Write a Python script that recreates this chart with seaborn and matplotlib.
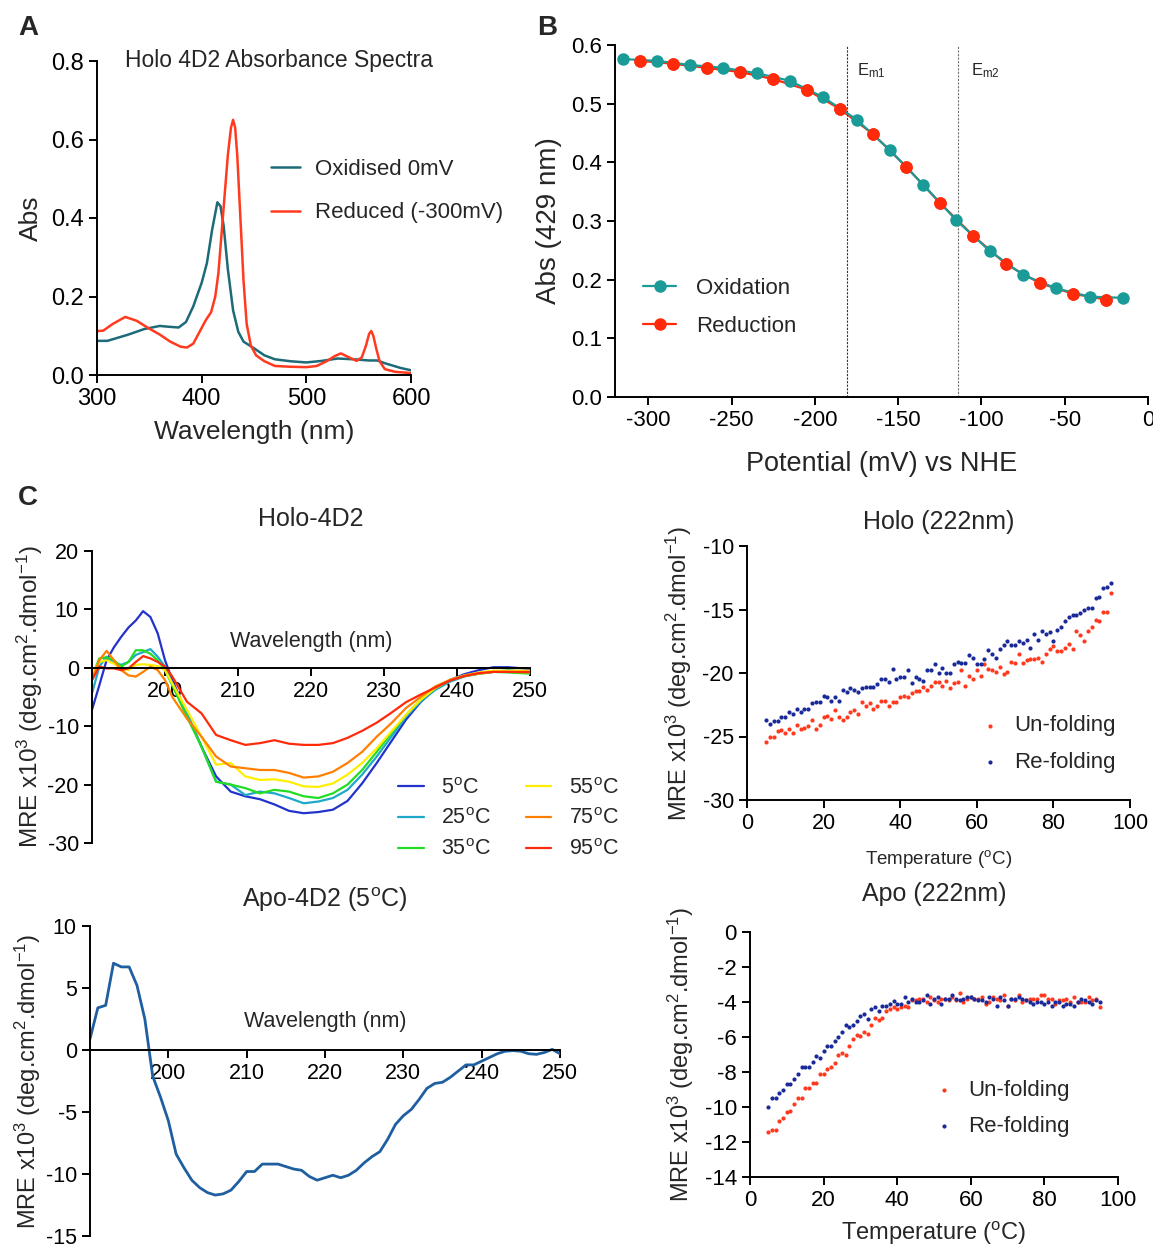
import numpy as np
import pandas as pd
import matplotlib
matplotlib.use('Agg')
import matplotlib.pyplot as plt
import seaborn as sns

# ---------------- DATA ----------------
# Panel A: absorbance spectra
ox_wl = [300, 310, 330, 345, 360, 368, 378, 385, 392, 400, 405, 410, 415, 418, 421, 425, 430, 435, 440, 450, 460, 470, 485, 500, 515, 530, 545, 560, 568, 575, 590, 600]
ox_abs = [0.087, 0.087, 0.103, 0.117, 0.125, 0.123, 0.121, 0.135, 0.175, 0.235, 0.285, 0.37, 0.44, 0.43, 0.38, 0.27, 0.165, 0.11, 0.085, 0.068, 0.05, 0.04, 0.035, 0.032, 0.036, 0.042, 0.04, 0.037, 0.037, 0.03, 0.018, 0.012]
red_wl = [300, 306, 315, 327, 338, 350, 360, 370, 380, 386, 392, 398, 404, 409, 413, 416, 419, 422, 425, 428, 430, 432, 434, 437, 440, 443, 447, 452, 460, 470, 485, 500, 510, 520, 527, 533, 540, 548, 553, 557, 560, 562, 564, 567, 570, 575, 585, 600]
red_abs = [0.112, 0.113, 0.13, 0.148, 0.138, 0.118, 0.103, 0.085, 0.072, 0.07, 0.08, 0.11, 0.14, 0.16, 0.2, 0.26, 0.36, 0.46, 0.56, 0.63, 0.65, 0.63, 0.56, 0.4, 0.24, 0.13, 0.075, 0.05, 0.035, 0.023, 0.021, 0.02, 0.023, 0.036, 0.048, 0.055, 0.046, 0.036, 0.045, 0.075, 0.105, 0.112, 0.1, 0.065, 0.035, 0.015, 0.008, 0.005]

# Panel B: redox titration
oxi_pot = [-315, -295, -275, -255, -235, -215, -195, -175, -155, -135, -115, -95, -75, -55, -35, -15]
oxi_abs = [0.576, 0.573, 0.566, 0.561, 0.552, 0.539, 0.511, 0.473, 0.421, 0.362, 0.301, 0.249, 0.208, 0.185, 0.171, 0.169]
red_pot = [-305, -285, -265, -245, -225, -205, -185, -165, -145, -125, -105, -85, -65, -45, -25]
red_pabs = [0.573, 0.568, 0.561, 0.554, 0.542, 0.524, 0.491, 0.448, 0.392, 0.331, 0.275, 0.226, 0.194, 0.176, 0.166]
em1 = -181
em2 = -114

# Panel C: Holo-4D2 CD spectra
cd_wl = [190, 191, 192, 193, 194, 195, 196, 197, 198, 199, 200, 201, 203, 205, 207, 209, 211, 213, 215, 217, 219, 221, 223, 225, 227, 229, 231, 233, 235, 237, 239, 241, 243, 245, 247, 250]
cd_5 = [-7.2, -3.0, 1.3, 3.5, 5.3, 6.9, 8.1, 9.7, 8.7, 5.9, 1.3, -2.1, -7.8, -13.5, -18.6, -21.2, -22.0, -22.5, -23.4, -24.5, -24.9, -24.7, -24.3, -22.8, -19.8, -16.3, -12.6, -8.9, -5.9, -3.6, -2.1, -1.1, -0.4, 0.1, 0.1, -0.2]
cd_25 = [-4.4, 0.2, 1.9, 0.9, 0.5, 1.0, 2.2, 2.7, 3.2, 1.9, 0.2, -2.7, -7.8, -13.5, -19.5, -20.0, -21.8, -21.2, -21.5, -22.3, -23.2, -22.9, -22.3, -20.9, -18.3, -15.2, -11.8, -8.4, -5.8, -3.8, -2.4, -1.5, -1.0, -0.7, -0.4, -0.7]
cd_35 = [-1.5, 1.6, 1.8, 1.3, 0.2, 1.0, 3.0, 3.0, 2.4, 1.3, -0.4, -3.0, -8.4, -13.5, -19.5, -20.0, -20.6, -21.5, -20.9, -21.2, -22.0, -22.3, -21.5, -20.0, -17.5, -14.4, -11.2, -8.1, -5.5, -3.5, -2.1, -1.4, -1.0, -0.7, -0.8, -1.0]
cd_55 = [-1.0, 1.0, 1.3, 0.7, -0.1, -0.4, 0.5, 0.6, 0.5, 0.3, -0.4, -2.7, -7.2, -11.8, -16.6, -16.3, -18.6, -19.2, -19.1, -19.5, -20.3, -20.4, -19.8, -18.3, -16.3, -13.8, -10.9, -8.1, -5.5, -3.5, -2.1, -1.3, -0.8, -0.5, -0.5, -0.5]
cd_75 = [-2.1, 1.3, 2.9, 1.3, -0.4, -1.3, -1.5, -0.7, 0.2, -0.4, -2.1, -5.0, -8.7, -11.8, -15.2, -16.9, -17.2, -17.5, -17.5, -18.0, -18.8, -18.6, -17.8, -16.3, -14.4, -11.8, -9.5, -6.9, -5.0, -3.2, -2.1, -1.4, -1.0, -0.7, -0.7, -0.8]
cd_95 = [-2.1, 0.2, -0.1, -0.1, -0.4, -0.1, 1.0, 2.0, 1.6, 1.0, 0.2, -1.5, -5.8, -7.8, -11.5, -12.4, -13.2, -12.9, -12.4, -13.0, -13.2, -13.2, -12.9, -12.0, -10.8, -9.4, -7.7, -5.9, -4.6, -3.4, -2.2, -1.4, -0.9, -0.7, -0.7, -0.7]
cd_labels = ['5$^{o}$C', '25$^{o}$C', '35$^{o}$C', '55$^{o}$C', '75$^{o}$C', '95$^{o}$C']
cd_colors = ['#2233cc', '#1fa9c9', '#22dd22', '#ffee00', '#ff8000', '#ff2a0a']

# Apo-4D2 CD spectrum
apo_wl = list(range(190, 251))
apo_mre = [0.9, 3.4, 3.6, 7.0, 6.7, 6.7, 5.2, 2.5, -2.1, -3.8, -5.7, -8.4, -9.5, -10.5, -11.1, -11.5, -11.7, -11.6, -11.3, -10.6, -9.8, -9.8, -9.2, -9.2, -9.2, -9.4, -9.6, -9.7, -10.2, -10.5, -10.3, -10.1, -10.3, -10.1, -9.7, -9.1, -8.6, -8.2, -7.2, -6.0, -5.3, -4.8, -4.0, -3.1, -2.7, -2.6, -2.2, -1.7, -1.2, -1.2, -0.9, -0.6, -0.3, -0.1, -0.05, -0.1, -0.3, -0.35, -0.2, 0.05, -0.3]

# Thermal melts at 222 nm
temps = list(range(5, 96))
holo_unf = [-25.4, -25.0, -25.0, -24.6, -24.5, -24.7, -24.4, -24.7, -24.1, -24.4, -24.3, -24.2, -23.7, -24.4, -24.1, -23.5, -23.4, -23.6, -22.9, -23.5, -23.7, -23.5, -23.1, -22.9, -23.2, -22.3, -22.6, -22.4, -22.8, -22.6, -22.2, -22.2, -22.6, -22.3, -22.3, -21.9, -21.8, -21.9, -21.6, -21.4, -21.4, -21.1, -21.3, -21.0, -20.7, -20.7, -21.0, -20.6, -21.2, -20.8, -20.7, -19.8, -21.0, -20.2, -20.5, -19.8, -20.2, -19.3, -19.7, -19.8, -19.9, -19.5, -20.1, -19.9, -19.1, -19.2, -18.5, -19.2, -19.0, -18.9, -18.9, -18.8, -19.1, -18.5, -18.1, -17.9, -18.3, -18.3, -18.0, -17.7, -18.1, -16.7, -17.0, -17.5, -16.7, -16.4, -15.8, -15.9, -15.2, -15.2, -13.7]
holo_ref = [-23.7, -24.0, -23.8, -23.8, -23.5, -23.5, -23.1, -23.2, -22.8, -23.1, -22.8, -22.8, -22.4, -22.3, -22.3, -21.8, -21.9, -22.2, -21.9, -22.2, -21.3, -21.5, -21.2, -21.3, -21.5, -21.2, -21.1, -21.1, -21.1, -20.9, -20.5, -20.5, -20.7, -19.7, -20.5, -20.3, -20.3, -19.8, -20.8, -20.3, -20.5, -20.6, -19.8, -19.8, -19.3, -20.0, -19.6, -20.0, -20.0, -19.3, -19.1, -19.2, -19.2, -18.6, -18.8, -19.3, -19.3, -18.9, -18.2, -18.5, -18.8, -18.1, -17.8, -17.5, -17.8, -17.8, -17.5, -17.6, -17.4, -18.0, -16.9, -17.4, -16.7, -16.9, -16.8, -17.5, -16.6, -16.4, -15.9, -15.6, -15.4, -15.4, -15.3, -15.0, -14.9, -14.9, -14.1, -14.0, -13.3, -13.2, -12.9]
apo_unf = [-11.4, -11.3, -11.3, -10.8, -10.6, -10.3, -10.2, -9.8, -9.5, -9.5, -8.9, -8.9, -8.6, -8.6, -8.1, -8.1, -7.8, -7.7, -7.5, -7.0, -6.9, -7.0, -6.5, -6.1, -5.9, -5.95, -5.7, -5.8, -5.3, -4.9, -5.0, -4.9, -4.5, -4.4, -4.3, -4.4, -4.3, -4.2, -4.3, -3.9, -3.9, -3.8, -3.8, -4.0, -3.7, -3.9, -4.0, -3.8, -3.8, -3.9, -3.7, -3.9, -3.5, -4.0, -3.8, -3.7, -3.8, -3.8, -3.7, -4.1, -4.0, -3.7, -3.8, -3.9, -3.6, -4.2, -3.8, -3.9, -3.6, -4.0, -3.9, -3.8, -3.8, -3.8, -3.6, -3.6, -3.8, -3.8, -4.1, -3.9, -3.9, -3.8, -4.0, -3.7, -4.0, -4.0, -4.0, -3.7, -3.9, -3.8, -4.3]
apo_ref = [-10.0, -9.5, -9.5, -9.2, -9.0, -8.7, -8.7, -8.4, -8.1, -7.7, -7.7, -7.7, -7.4, -7.1, -7.2, -6.8, -6.5, -6.5, -6.2, -6.0, -5.7, -5.3, -5.4, -5.3, -5.1, -4.8, -4.7, -4.95, -4.4, -4.3, -4.5, -4.2, -4.2, -4.1, -3.95, -4.1, -4.1, -3.7, -4.0, -3.8, -4.0, -4.0, -3.9, -3.6, -4.1, -3.8, -3.7, -4.1, -3.8, -3.8, -3.6, -3.8, -3.9, -3.8, -3.7, -3.7, -3.8, -3.9, -3.9, -4.0, -3.7, -3.8, -4.2, -3.7, -3.9, -4.2, -3.8, -3.8, -3.7, -3.8, -3.9, -4.0, -4.1, -4.0, -4.0, -4.1, -4.0, -4.2, -4.0, -4.0, -4.2, -4.1, -4.1, -4.2, -4.0, -3.85, -3.9, -4.0, -4.1, -3.9, -4.0]

# ---------------- STYLE ----------------
sns.set_style('ticks')
plt.rcParams['font.family'] = ['Liberation Sans', 'DejaVu Sans']
plt.rcParams['mathtext.default'] = 'regular'
plt.rcParams['axes.unicode_minus'] = False

W, H = 1153, 1247
fig = plt.figure(figsize=(W / 100, H / 100), dpi=100)


def box(l, t, r, b):
    return [l / W, 1 - b / H, (r - l) / W, (b - t) / H]


def style(ax, tsize):
    for s in ['top', 'right']:
        ax.spines[s].set_visible(False)
    for s in ['left', 'bottom']:
        ax.spines[s].set_linewidth(1.4)
        ax.spines[s].set_color('black')
    ax.tick_params(direction='out', length=6, width=1.4, labelsize=tsize, colors='black')


YL = 'MRE x10$^{3}$ (deg.cm$^{2}$.dmol$^{-1}$)'

# ---- Panel A ----
axA = fig.add_axes(box(97, 61, 411, 375))
sns.lineplot(x=ox_wl, y=ox_abs, ax=axA, color='#1d6b78', lw=1.8, label='Oxidised 0mV')
sns.lineplot(x=red_wl, y=red_abs, ax=axA, color='#ff3a1f', lw=1.8, label='Reduced (-300mV)')
axA.set_xlim(300, 600)
axA.set_ylim(0, 0.8)
axA.set_xticks([300, 400, 500, 600])
axA.set_yticks([0, 0.2, 0.4, 0.6, 0.8])
axA.set_yticklabels(['0.0', '0.2', '0.4', '0.6', '0.8'])
style(axA, 17)
axA.set_xlabel('Wavelength (nm)', fontsize=19, labelpad=7)
axA.set_ylabel('Abs', fontsize=19, labelpad=6)
axA.text(0.58, 1.0, 'Holo 4D2 Absorbance Spectra', transform=axA.transAxes, ha='center', va='center', fontsize=16.5)
axA.legend(loc='center left', bbox_to_anchor=(0.49, 0.585), frameon=False, fontsize=16, handlelength=1.3, handletextpad=0.7, labelspacing=1.0)

# ---- Panel B ----
axB = fig.add_axes(box(615, 45, 1148, 397))
sns.lineplot(x=oxi_pot, y=oxi_abs, ax=axB, color='#1a9b98', lw=1.6, marker='o', markersize=9, markeredgewidth=0, label='Oxidation')
sns.lineplot(x=red_pot, y=red_pabs, ax=axB, color='#ff2a0a', lw=1.6, marker='o', markersize=9, markeredgewidth=0, label='Reduction')
axB.lines[0].set_zorder(3)
axB.lines[1].set_zorder(2)
sns.scatterplot(x=red_pot, y=red_pabs, ax=axB, color='#ff2a0a', s=81, linewidth=0, zorder=4, legend=False)
axB.axvline(em1, ymin=0, ymax=1, color='0.2', lw=0.8, ls=(0, (2, 1.2)))
axB.axvline(em2, ymin=0, ymax=1, color='0.45', lw=0.8, ls=(0, (2, 1.2)))
axB.text(em1 + 6, 0.557, 'E$_{m1}$', fontsize=12, va='center')
axB.text(em2 + 8, 0.557, 'E$_{m2}$', fontsize=12, va='center')
axB.set_xlim(-320, 0)
axB.set_ylim(0, 0.6)
axB.set_xticks([-300, -250, -200, -150, -100, -50, 0])
axB.set_yticks([0, 0.1, 0.2, 0.3, 0.4, 0.5, 0.6])
axB.set_yticklabels(['0.0', '0.1', '0.2', '0.3', '0.4', '0.5', '0.6'])
style(axB, 16)
axB.set_xlabel('Potential (mV) vs NHE', fontsize=19.5, labelpad=14)
axB.set_ylabel('Abs (429 nm)', fontsize=20, labelpad=6)
axB.legend(loc='center left', bbox_to_anchor=(0.015, 0.255), frameon=False, fontsize=16,
           handlelength=1.5, handletextpad=0.9, labelspacing=0.75)

# ---- Panel C: Holo-4D2 ----
axC = fig.add_axes(box(92, 551, 530, 843))
for ys, lab, col in zip([cd_5, cd_25, cd_35, cd_55, cd_75, cd_95], cd_labels, cd_colors):
    sns.lineplot(x=cd_wl, y=ys, ax=axC, color=col, lw=1.6, label=lab)
axC.set_xlim(190, 250)
axC.set_ylim(-30, 20)
axC.set_xticks([200, 210, 220, 230, 240, 250])
axC.set_yticks([-30, -20, -10, 0, 10, 20])
style(axC, 15.5)
axC.spines['bottom'].set_position(('data', 0))
axC.set_xlabel('')
axC.set_ylabel(YL, fontsize=17.5, labelpad=2)
axC.text(220, 4.5, 'Wavelength (nm)', ha='center', va='center', fontsize=15.5)
axC.set_title('Holo-4D2', fontsize=18, pad=18)
axC.legend(loc='upper left', bbox_to_anchor=(0.655, 0.29), ncol=2, frameon=False, fontsize=15.5,
           handlelength=1.2, handletextpad=0.8, columnspacing=1.6, labelspacing=0.45)

# ---- Holo (222nm) ----
axD = fig.add_axes(box(747, 546, 1130, 800))
sns.scatterplot(x=temps, y=holo_unf, ax=axD, color='#ff3a1f', s=9, linewidth=0, label='Un-folding')
sns.scatterplot(x=temps, y=holo_ref, ax=axD, color='#1a2a99', s=9, linewidth=0, label='Re-folding')
axD.set_xlim(0, 100)
axD.set_ylim(-30, -10)
axD.set_xticks([0, 20, 40, 60, 80, 100])
axD.set_yticks([-30, -25, -20, -15, -10])
style(axD, 15.5)
axD.set_xlabel('Temperature ($^{o}$C)', fontsize=13.5, labelpad=10)
axD.set_ylabel(YL, fontsize=17, labelpad=6)
axD.set_title('Holo (222nm)', fontsize=18, pad=12)
axD.legend(loc='center left', bbox_to_anchor=(0.565, 0.22), frameon=False, fontsize=16,
           handlelength=0.6, handletextpad=0.8, labelspacing=0.7)

# ---- Apo-4D2 ----
axE = fig.add_axes(box(90, 926, 560, 1236))
sns.lineplot(x=apo_wl, y=apo_mre, ax=axE, color='#1f5fa0', lw=2.0)
axE.set_xlim(190, 250)
axE.set_ylim(-15, 10)
axE.set_xticks([200, 210, 220, 230, 240, 250])
axE.set_yticks([-15, -10, -5, 0, 5, 10])
style(axE, 15.5)
axE.spines['bottom'].set_position(('data', 0))
axE.set_xlabel('')
axE.set_ylabel(YL, fontsize=17, labelpad=2)
axE.text(220, 2.3, 'Wavelength (nm)', ha='center', va='center', fontsize=15.5)
axE.set_title('Apo-4D2 (5$^{o}$C)', fontsize=18, pad=14)

# ---- Apo (222nm) ----
axF = fig.add_axes(box(750, 932, 1118, 1177))
sns.scatterplot(x=temps, y=apo_unf, ax=axF, color='#ff3a1f', s=9, linewidth=0, label='Un-folding')
sns.scatterplot(x=temps, y=apo_ref, ax=axF, color='#1a2a99', s=9, linewidth=0, label='Re-folding')
axF.set_xlim(0, 100)
axF.set_ylim(-14, 0)
axF.set_xticks([0, 20, 40, 60, 80, 100])
axF.set_yticks([-14, -12, -10, -8, -6, -4, -2, 0])
style(axF, 16)
axF.set_xlabel('Temperature ($^{o}$C)', fontsize=17, labelpad=6)
axF.set_ylabel(YL, fontsize=17, labelpad=6)
axF.set_title('Apo (222nm)', fontsize=18, pad=22)
axF.legend(loc='center left', bbox_to_anchor=(0.455, 0.28), frameon=False, fontsize=16,
           handlelength=0.6, handletextpad=0.8, labelspacing=0.7)

# Panel letters
fig.text(18 / W, 1 - 28 / H, 'A', fontsize=20, fontweight='bold', va='center')
fig.text(537 / W, 1 - 28 / H, 'B', fontsize=20, fontweight='bold', va='center')
fig.text(18 / W, 1 - 498 / H, 'C', fontsize=20, fontweight='bold', va='center')

fig.savefig('out.png', dpi=100)
